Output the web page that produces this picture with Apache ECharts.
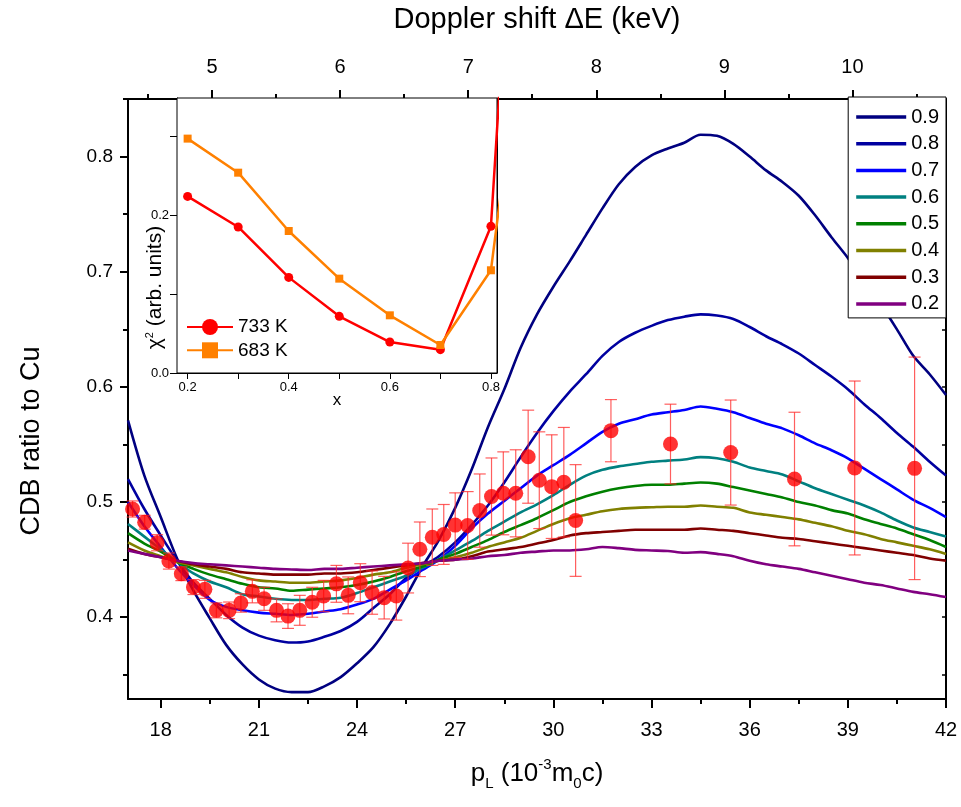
<!DOCTYPE html>
<html>
<head>
<meta charset="utf-8">
<script src="https://cdn.jsdelivr.net/npm/echarts@6/dist/echarts.min.js"></script>
<style>html,body{margin:0;padding:0;background:#fff}#c{width:961px;height:807px}</style>
</head>
<body>
<div id="c"></div>
<script>
// ---------- data ----------
const pL = [17,17.5,18,18.5,19,19.5,20,20.5,21,21.5,22,22.5,23,23.5,24,24.5,25,25.5,26,26.5,27,27.5,28,28.5,29,29.5,30,30.5,31,31.5,32,32.5,33,33.5,34,34.5,35,35.5,36,36.5,37,37.5,38,38.5,39,39.5,40,40.5,41,41.5,42];
const c09 = [0.571,0.523,0.487,0.451,0.423,0.399,0.376,0.359,0.346,0.338,0.335,0.335,0.340,0.348,0.360,0.374,0.394,0.418,0.444,0.467,0.495,0.528,0.565,0.598,0.634,0.663,0.687,0.709,0.732,0.755,0.776,0.791,0.801,0.807,0.812,0.819,0.818,0.811,0.800,0.788,0.778,0.766,0.749,0.730,0.712,0.692,0.672,0.650,0.627,0.611,0.593];
const c08 = [0.520,0.494,0.471,0.449,0.430,0.416,0.402,0.391,0.384,0.380,0.378,0.379,0.383,0.388,0.396,0.408,0.420,0.434,0.444,0.453,0.465,0.480,0.497,0.517,0.539,0.560,0.579,0.596,0.611,0.627,0.639,0.647,0.653,0.658,0.661,0.663,0.662,0.659,0.652,0.644,0.637,0.629,0.619,0.609,0.598,0.585,0.573,0.560,0.548,0.535,0.523];
const c07 = [0.500,0.479,0.461,0.443,0.428,0.415,0.409,0.406,0.404,0.403,0.402,0.403,0.405,0.407,0.411,0.416,0.424,0.432,0.441,0.450,0.462,0.477,0.490,0.501,0.512,0.523,0.532,0.541,0.551,0.561,0.568,0.572,0.576,0.578,0.580,0.583,0.581,0.578,0.573,0.568,0.564,0.558,0.551,0.545,0.538,0.529,0.520,0.511,0.502,0.495,0.487];
const c06 = [0.481,0.470,0.459,0.448,0.438,0.431,0.426,0.420,0.418,0.416,0.415,0.415,0.416,0.417,0.421,0.426,0.431,0.436,0.443,0.450,0.458,0.466,0.475,0.483,0.491,0.498,0.506,0.515,0.523,0.528,0.531,0.533,0.535,0.536,0.537,0.539,0.538,0.535,0.530,0.527,0.524,0.518,0.512,0.507,0.502,0.497,0.491,0.484,0.478,0.474,0.470];
const c05 = [0.473,0.464,0.457,0.448,0.442,0.437,0.433,0.429,0.426,0.425,0.423,0.424,0.425,0.426,0.428,0.431,0.435,0.440,0.444,0.450,0.455,0.461,0.467,0.474,0.480,0.486,0.493,0.500,0.505,0.509,0.512,0.514,0.515,0.515,0.516,0.517,0.516,0.513,0.510,0.507,0.504,0.500,0.497,0.493,0.490,0.485,0.481,0.477,0.472,0.467,0.461];
const c04 = [0.465,0.458,0.453,0.448,0.445,0.442,0.439,0.435,0.432,0.431,0.430,0.430,0.431,0.432,0.434,0.437,0.439,0.443,0.446,0.449,0.452,0.456,0.461,0.465,0.469,0.475,0.481,0.486,0.489,0.492,0.494,0.495,0.4955,0.496,0.496,0.497,0.496,0.495,0.491,0.489,0.487,0.485,0.482,0.479,0.475,0.472,0.468,0.465,0.462,0.459,0.455];
const c03 = [0.4595,0.455,0.452,0.449,0.446,0.444,0.442,0.439,0.438,0.437,0.437,0.437,0.438,0.438,0.439,0.441,0.443,0.445,0.447,0.449,0.450,0.453,0.457,0.459,0.461,0.464,0.467,0.471,0.473,0.474,0.475,0.476,0.476,0.476,0.476,0.477,0.476,0.475,0.473,0.471,0.469,0.468,0.466,0.464,0.462,0.460,0.458,0.456,0.454,0.451,0.449];
const c02 = [0.458,0.455,0.452,0.449,0.447,0.446,0.445,0.444,0.443,0.442,0.4415,0.441,0.442,0.442,0.443,0.444,0.445,0.446,0.447,0.449,0.450,0.451,0.453,0.454,0.456,0.457,0.458,0.458,0.459,0.461,0.460,0.4585,0.458,0.4575,0.456,0.4565,0.455,0.453,0.449,0.446,0.444,0.442,0.439,0.436,0.433,0.430,0.428,0.425,0.422,0.420,0.4175];
const curveNames = ['0.9','0.8','0.7','0.6','0.5','0.4','0.3','0.2'];
const curveColors = ['#000080','#0000A0','#0000FF','#008080','#008000','#808000','#800000','#800080'];

const expX = [17.14,17.51,17.89,18.25,18.63,19.0,19.35,19.7,20.09,20.45,20.8,21.16,21.54,21.89,22.25,22.63,22.98,23.37,23.73,24.1,24.46,24.83,25.2,25.56,25.92,26.3,26.65,27.0,27.38,27.75,28.11,28.47,28.85,29.23,29.57,29.95,30.32,30.68,31.76,33.58,35.42,37.37,39.21,41.04];
const expY = [0.494,0.4825,0.4647,0.4488,0.4378,0.4262,0.4242,0.406,0.406,0.4124,0.4225,0.416,0.406,0.401,0.406,0.413,0.4184,0.429,0.419,0.430,0.4214,0.417,0.4185,0.4427,0.459,0.4695,0.4719,0.480,0.4797,0.4926,0.5048,0.5076,0.5076,0.5394,0.519,0.5134,0.5172,0.484,0.562,0.5504,0.543,0.520,0.5296,0.5293];
const expErr = [0.007,0.006,0.007,0.007,0.006,0.0065,0.0078,0.0065,0.0072,0.008,0.010,0.010,0.010,0.0107,0.013,0.013,0.0136,0.016,0.016,0.0165,0.0188,0.0185,0.021,0.0216,0.0237,0.0245,0.026,0.028,0.0294,0.0318,0.0335,0.036,0.0378,0.0404,0.042,0.045,0.0476,0.0485,0.027,0.0346,0.0456,0.058,0.0755,0.0966];

const insetX = [0.2,0.3,0.4,0.5,0.6,0.7,0.8,0.9];
const chi733 = [0.2235,0.1848,0.121,0.0717,0.0392,0.0295,0.1857,1.2];
const chi683 = [0.2966,0.2535,0.1797,0.1194,0.073,0.0354,0.130,0.63];

const pTickLabels = [18,21,24,27,30,33,36,39,42];
const pMinorTicks = [19.5,22.5,25.5,28.5,31.5,34.5,37.5,40.5];
const eTickLabels = [5,6,7,8,9,10];
const eMinorTicks = [4.5,5.5,6.5,7.5,8.5,9.5,10.5];
const yTickLabels = [0.4,0.5,0.6,0.7,0.8];
const yMinorTicks = [0.35,0.45,0.55,0.65,0.75,0.85];
const yAllTicks = [0.35,0.4,0.45,0.5,0.55,0.6,0.65,0.7,0.75,0.8,0.85];
const insetXLabels = [0.2,0.4,0.6,0.8];
const insetXTicks = [0.2,0.3,0.4,0.5,0.6,0.7,0.8];
const insetYLabels = [0.0,0.2];
const insetYTicks = [0.0,0.1,0.2,0.3];

// ---------- chart ----------
const FONT = '"Liberation Sans", Arial, sans-serif';
const KEV_PER_P = 0.2555;
const pMin = 17, pMax = 42;
const chart = echarts.init(document.getElementById('c'), null, {renderer: 'canvas'});

const curves = [c09,c08,c07,c06,c05,c04,c03,c02];
const curveSeries = curves.map((arr, i) => ({
  name: curveNames[i], type: 'line', xAxisIndex: 0, yAxisIndex: 0,
  data: pL.map((x, j) => [x, arr[j]]),
  symbol: 'none', smooth: 0.3, z: 3,
  lineStyle: {color: curveColors[i], width: 2.6},
  itemStyle: {color: curveColors[i]}
}));

const lbl = {fontFamily: FONT, color: '#000'};
const noSplit = {show: false};
const TITLE = 27;

const option = {
  backgroundColor: '#fff',
  animation: false,
  grid: [
    {left: 128, top: 97, width: 818, height: 602, containLabel: false},
    {left: 177, top: 98, width: 320, height: 275, show: true, backgroundColor: '#fff', borderColor: '#000', borderWidth: 1, z: 5}
  ],
  legend: [
    {
      data: curveNames.map(n => ({name: n, icon: 'rect'})), orient: 'vertical', right: 15, top: 97,
      padding: [10, 7, 4, 8], itemGap: 6.7, itemWidth: 50, itemHeight: 3.5,
      backgroundColor: '#fff', borderColor: '#000', borderWidth: 1, borderRadius: 0,
      textStyle: {fontFamily: FONT, fontSize: 20, color: '#000', lineHeight: 20}, z: 10
    },
    {
      data: ['733 K', '683 K'], orient: 'vertical', left: 186, top: 317,
      padding: 0, itemGap: 3.3, itemWidth: 46, itemHeight: 20,
      textStyle: {fontFamily: FONT, fontSize: 19, color: '#000', lineHeight: 20}, z: 10
    }
  ],
  xAxis: [
    { // 0 main bottom
      type: 'value', gridIndex: 0, position: 'bottom', min: pMin, max: pMax,
      axisLine: {show: true, lineStyle: {color: '#000', width: 2}},
      axisTick: {show: true, customValues: pTickLabels, length: 9, lineStyle: {color: '#000', width: 2}},
      axisLabel: {customValues: pTickLabels, margin: 21, fontSize: 20, ...lbl},
      splitLine: noSplit,
      name: '{a|p}{sub|L}{a| (10}{sup|-3}{a|m}{sub|0}{a|c)}',
      nameLocation: 'middle', nameGap: 58, nameMoveOverlap: false,
      nameTextStyle: {rich: {
        a: {fontFamily: FONT, fontSize: 26, color: '#000', lineHeight: 34, verticalAlign: 'middle'},
        sub: {fontFamily: FONT, fontSize: 15, color: '#000', lineHeight: 34, verticalAlign: 'bottom'},
        sup: {fontFamily: FONT, fontSize: 15, color: '#000', lineHeight: 34, verticalAlign: 'top'}
      }}
    },
    { // 1 main bottom minor ticks
      type: 'value', gridIndex: 0, position: 'bottom', min: pMin, max: pMax,
      axisLine: {show: false},
      axisTick: {show: true, customValues: pMinorTicks, length: 5, lineStyle: {color: '#000', width: 2}},
      axisLabel: {show: false}, splitLine: noSplit
    },
    { // 2 top Doppler
      type: 'value', gridIndex: 0, position: 'top', min: pMin * KEV_PER_P, max: pMax * KEV_PER_P,
      axisLine: {show: true, lineStyle: {color: '#000', width: 2}},
      axisTick: {show: true, customValues: eTickLabels, length: 9, lineStyle: {color: '#000', width: 2}},
      axisLabel: {customValues: eTickLabels, margin: 22, fontSize: 20, ...lbl},
      splitLine: noSplit,
      name: 'Doppler shift ΔE (keV)', nameLocation: 'middle', nameGap: 65, nameMoveOverlap: false,
      nameTextStyle: {fontFamily: FONT, fontSize: 29, color: '#000'}
    },
    { // 3 top minor
      type: 'value', gridIndex: 0, position: 'top', min: pMin * KEV_PER_P, max: pMax * KEV_PER_P,
      axisLine: {show: false},
      axisTick: {show: true, customValues: eMinorTicks, length: 5, lineStyle: {color: '#000', width: 2}},
      axisLabel: {show: false}, splitLine: noSplit
    },
    { // 4 inset x
      type: 'value', gridIndex: 1, position: 'bottom', min: 0.179, max: 0.812,
      axisLine: {show: true, lineStyle: {color: '#000', width: 1}},
      axisTick: {show: true, customValues: insetXTicks, length: 6, lineStyle: {color: '#000', width: 1}},
      axisLabel: {customValues: insetXLabels, margin: 8, fontSize: 13, formatter: v => v.toFixed(1), ...lbl},
      splitLine: noSplit,
      name: 'x', nameLocation: 'middle', nameGap: 19, nameMoveOverlap: false,
      nameTextStyle: {fontFamily: FONT, fontSize: 17, color: '#000'}
    }
  ],
  yAxis: [
    { // 0 main left
      type: 'value', gridIndex: 0, position: 'left', min: 0.329, max: 0.850,
      axisLine: {show: true, lineStyle: {color: '#000', width: 2}},
      axisTick: {show: true, customValues: yTickLabels, length: 8, lineStyle: {color: '#000', width: 2}},
      axisLabel: {customValues: yTickLabels, margin: 15, fontSize: 19, formatter: v => v.toFixed(1), ...lbl},
      splitLine: noSplit,
      name: 'CDB ratio to Cu', nameLocation: 'middle', nameGap: 83, nameMoveOverlap: false,
      nameTextStyle: {fontFamily: FONT, fontSize: TITLE, color: '#000', padding: [0, 84, 0, 0]}
    },
    { // 1 left minor
      type: 'value', gridIndex: 0, position: 'left', min: 0.329, max: 0.850,
      axisLine: {show: false},
      axisTick: {show: true, customValues: yMinorTicks, length: 5, lineStyle: {color: '#000', width: 2}},
      axisLabel: {show: false}, splitLine: noSplit
    },
    { // 2 right inward
      type: 'value', gridIndex: 0, position: 'right', min: 0.329, max: 0.850,
      axisLine: {show: true, lineStyle: {color: '#000', width: 2}},
      axisTick: {show: true, inside: true, customValues: yAllTicks, length: 4, lineStyle: {color: '#000', width: 1.5}},
      axisLabel: {show: false}, splitLine: noSplit
    },
    { // 3 inset left
      type: 'value', gridIndex: 1, position: 'left', min: 0, max: 0.348,
      axisLine: {show: true, lineStyle: {color: '#000', width: 1}},
      axisTick: {show: true, customValues: insetYTicks, length: 7, lineStyle: {color: '#000', width: 1}},
      axisLabel: {customValues: insetYLabels, margin: 8, fontSize: 13, formatter: v => v.toFixed(1), ...lbl},
      splitLine: noSplit,
      name: '{a|χ}{sup|2}{a| (arb. units)}', nameLocation: 'middle', nameGap: 11, nameMoveOverlap: false,
      nameTextStyle: {padding: [0, 104, 0, 0], rich: {
        a: {fontFamily: FONT, fontSize: 21, color: '#000', lineHeight: 22, verticalAlign: 'middle'},
        sup: {fontFamily: FONT, fontSize: 11, color: '#000', lineHeight: 22, verticalAlign: 'top'}
      }}
    },
    { // 4 inset right inward ticks
      type: 'value', gridIndex: 1, position: 'right', min: 0, max: 0.348,
      axisLine: {show: true, lineStyle: {color: '#000', width: 1}},
      axisTick: {show: true, inside: true, customValues: insetYTicks, length: 4, lineStyle: {color: '#000', width: 1}},
      axisLabel: {show: false}, splitLine: noSplit
    }
  ],
  series: [
    ...curveSeries,
    {
      name: 'errorbars', type: 'custom', xAxisIndex: 0, yAxisIndex: 0, z: 4,
      data: expX.map((x, i) => [x, expY[i], expErr[i]]),
      renderItem: function (params, api) {
        const x = api.value(0), y = api.value(1), e = api.value(2);
        const top = api.coord([x, y + e]);
        const bot = api.coord([x, y - e]);
        const hw = 6;
        const st = {stroke: 'rgba(255,40,40,0.75)', lineWidth: 1.2};
        return {type: 'group', children: [
          {type: 'line', shape: {x1: top[0], y1: top[1], x2: bot[0], y2: bot[1]}, style: st},
          {type: 'line', shape: {x1: top[0] - hw, y1: top[1], x2: top[0] + hw, y2: top[1]}, style: st},
          {type: 'line', shape: {x1: bot[0] - hw, y1: bot[1], x2: bot[0] + hw, y2: bot[1]}, style: st}
        ]};
      }
    },
    {
      name: 'exp', type: 'scatter', xAxisIndex: 0, yAxisIndex: 0, z: 5,
      data: expX.map((x, i) => [x, expY[i]]),
      symbol: 'circle', symbolSize: 15,
      itemStyle: {color: '#FF0000'}
    },
    {
      name: '733 K', type: 'line', xAxisIndex: 4, yAxisIndex: 3, z: 6,
      data: insetX.map((x, i) => [x, chi733[i]]),
      symbol: 'circle', symbolSize: 9, showAllSymbol: true, clip: true,
      lineStyle: {color: '#FF0000', width: 2.5}, itemStyle: {color: '#FF0000'}
    },
    {
      name: '683 K', type: 'line', xAxisIndex: 4, yAxisIndex: 3, z: 6,
      data: insetX.map((x, i) => [x, chi683[i]]),
      symbol: 'rect', symbolSize: 8, showAllSymbol: true, clip: true,
      lineStyle: {color: '#FF8000', width: 2.5}, itemStyle: {color: '#FF8000'}
    }
  ]
};
chart.setOption(option);
</script>
</body>
</html>
